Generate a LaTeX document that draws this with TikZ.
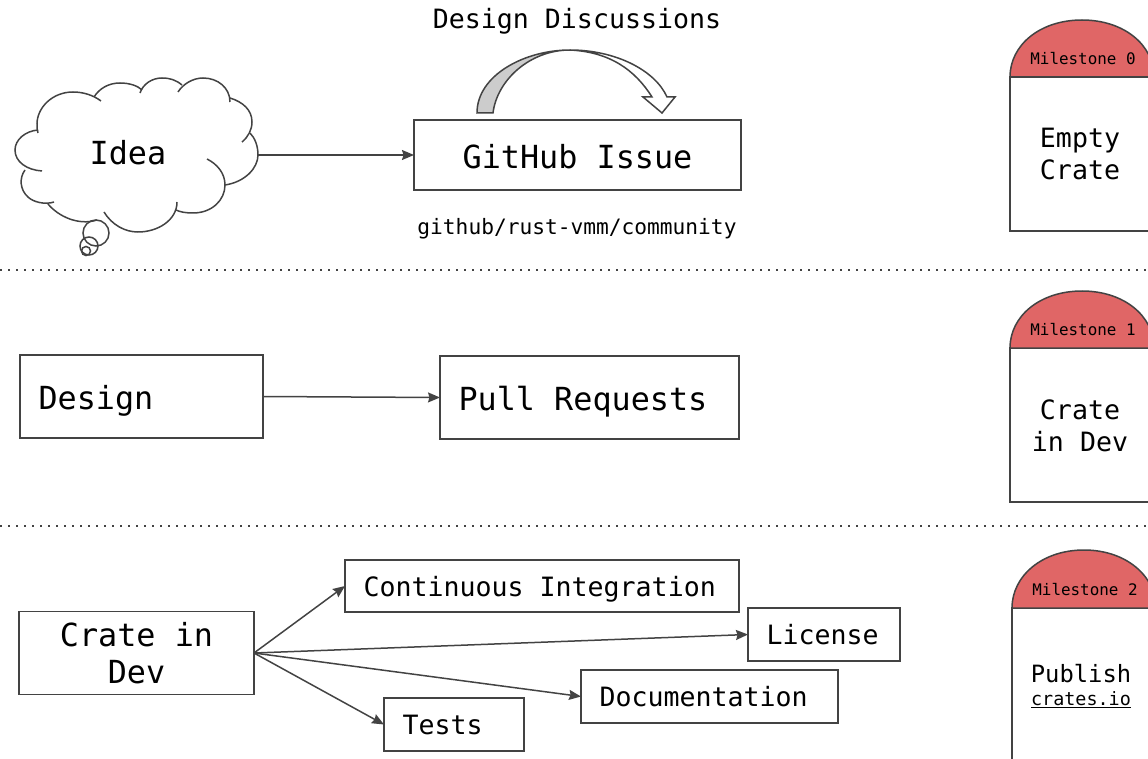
\documentclass[tikz,border=0pt]{standalone}
\usepackage{fontspec}
\setmainfont{DejaVu Sans Mono}
\usepackage{xcolor}
\usetikzlibrary{arrows.meta}
\definecolor{linegray}{HTML}{434343}
\definecolor{milered}{HTML}{E06666}
\newcommand{\bigfont}{\fontsize{31.8}{37}\selectfont}
\newcommand{\midfont}{\fontsize{26.6}{32}\selectfont}
\newcommand{\smallfont}{\fontsize{21.2}{25}\selectfont}

\begin{document}
\begin{tikzpicture}[x=1pt, y=-1pt,
    box/.style={draw=linegray, line width=1.5pt, anchor=north west, outer sep=0pt, inner xsep=18.5pt, inner ysep=0pt, align=flush left},
    onebig/.style={font=\bigfont, text height=31.6pt, text depth=5.1pt},
    onemid/.style={font=\midfont, text height=25pt, text depth=4.3pt},
    flow/.style={draw=linegray, line width=1.5pt, -{Stealth[length=12pt, width=10pt, inset=1.5pt]}},
    lobe/.style={draw=linegray, line width=1.5pt},
    sep/.style={draw=linegray, line width=1.2pt, dash pattern=on 2pt off 6pt},
    dome/.style={draw=linegray, line width=1.5pt, fill=milered}]
    \useasboundingbox (0,0) rectangle (1148,759);

    % cloud
    \draw[lobe] (38,130) .. controls (25,131) and (15,140) .. (15,150) .. controls (15,162) and (27,170) .. (42,171);
    \draw[lobe] (25,170) .. controls (19,178) and (20,190) .. (28,197) .. controls (33,202) and (45,205) .. (54,202);
    \draw[lobe] (48,204) .. controls (58,216) and (78,226) .. (97,220);
    \draw[lobe] (104,212) .. controls (112,225) and (125,232) .. (138,232) .. controls (158,232) and (177,220) .. (177,202);
    \draw[lobe] (176,210) .. controls (180,212) and (186,213) .. (193,213) .. controls (212,213) and (225,200) .. (225,185) .. controls (225,173) and (217,164) .. (207,159);
    \draw[lobe] (225,185) .. controls (245,182) and (258,168) .. (258,155) .. controls (258,146) and (255,138) .. (250,133);
    \draw[lobe] (242,142) .. controls (248,137) and (252,130) .. (252,122) .. controls (252,110) and (243,102) .. (230,98);
    \draw[lobe] (230,102) .. controls (230,88) and (218,78) .. (203,78) .. controls (193,78) and (183,84) .. (178,92);
    \draw[lobe] (182,85) .. controls (176,80) and (170,78) .. (162,78) .. controls (152,78) and (143,84) .. (140,93);
    \draw[lobe] (142,90) .. controls (138,86) and (130,83) .. (120,83) .. controls (108,83) and (99,89) .. (94,97);
    \draw[lobe] (101,101) .. controls (93,95) and (83,92) .. (73,92) .. controls (52,92) and (37,108) .. (37,124) .. controls (37,127) and (37,130) .. (38,133);
    \draw[lobe] (96,233) circle (13);
    \draw[lobe] (89,246) circle (9);
    \draw[lobe] (86,251) circle (4.5);
    \node[font=\bigfont] (idea) at (128,153) {Idea};
    \coordinate (cloudedge) at (258,155);

    % first row
    \node[box, onebig, text width=290pt, minimum height=70pt, align=flush center] (issue) at (414,120) {GitHub Issue};
    \node[font=\midfont] (discussions) at (577,21) {Design Discussions};
    \node[font=\smallfont] (community) at (577,229) {github/rust-vmm/community};
    \draw[flow] (cloudedge) -- (issue.west);

    % curved arrow
    \draw[lobe, fill=black!20] (477,113) .. controls (477,75) and (525,50) .. (570,50) .. controls (530,50) and (497,80) .. (493,113) -- cycle;
    \draw[lobe] (570,50) .. controls (615,50) and (655,70) .. (667,97) -- (675,97) -- (662,113) -- (643,97) -- (652,97) .. controls (635,70) and (610,52) .. (570,50);

    % second row
    \node[box, onebig, text width=206pt, minimum height=83pt] (design) at (20,355) {Design};
    \node[box, onebig, text width=262pt, minimum height=83pt] (pull) at (440,356) {Pull Requests};
    \draw[flow] (design.east) -- (pull.west);

    % third row
    \node[box, font=\bigfont, text width=198pt, minimum height=83pt, align=flush center] (crate) at (19,611.5) {Crate in\\Dev};
    \node[box, onemid, text width=357pt, minimum height=52pt] (ci) at (345,560) {Continuous Integration};
    \node[box, onemid, text width=115pt, minimum height=53pt] (license) at (748,608) {License};
    \node[box, onemid, text width=220pt, minimum height=53pt] (docs) at (581,670) {Documentation};
    \node[box, onemid, text width=103pt, minimum height=53pt] (tests) at (384,698) {Tests};
    \draw[flow] (crate.east) -- (ci.west);
    \draw[flow] (crate.east) -- (license.west);
    \draw[flow] (crate.east) -- (docs.west);
    \draw[flow] (crate.east) -- (tests.west);

    % separators
    \coordinate (sepA) at (0,270);
    \coordinate (sepAA) at (1148,270);
    \coordinate (sepB) at (0,526);
    \coordinate (sepBB) at (1148,526);
    \draw[sep] (sepA) -- (sepAA);
    \draw[sep] (sepB) -- (sepBB);

    % milestones
    \foreach \x/\ytop/\ybase/\ybot/\i in {1010/20/77/231/0, 1010/291/348/502/1, 1012/550/608/775/2}
    {
    \draw[lobe] (\x,\ybase) rectangle (1170,\ybot);
    \draw[dome] (\x,\ybase) .. controls (\x,{\ybase-32}) and ({\x+30},\ytop) .. ({\x+72},\ytop) .. controls ({\x+114},\ytop) and ({\x+144},{\ybase-32}) .. ({\x+144},\ybase) -- cycle;
    \node[font=\fontsize{15.9}{19}\selectfont] (mile\i) at ({\x+73},{\ybase-18.5}) {Milestone \i};
    }
    \node[font=\midfont, align=center] (empty) at (1080,154) {Empty\\Crate};
    \node[font=\midfont, align=center] (indev) at (1080,426) {Crate\\in Dev};
    \node[font=\fontsize{23.8}{28}\selectfont] (publish) at (1081,674) {Publish};
    \node[font=\fontsize{18.4}{22}\selectfont] (cratesio) at (1081,700) {\underline{crates.io}};
\end{tikzpicture}
\end{document}
